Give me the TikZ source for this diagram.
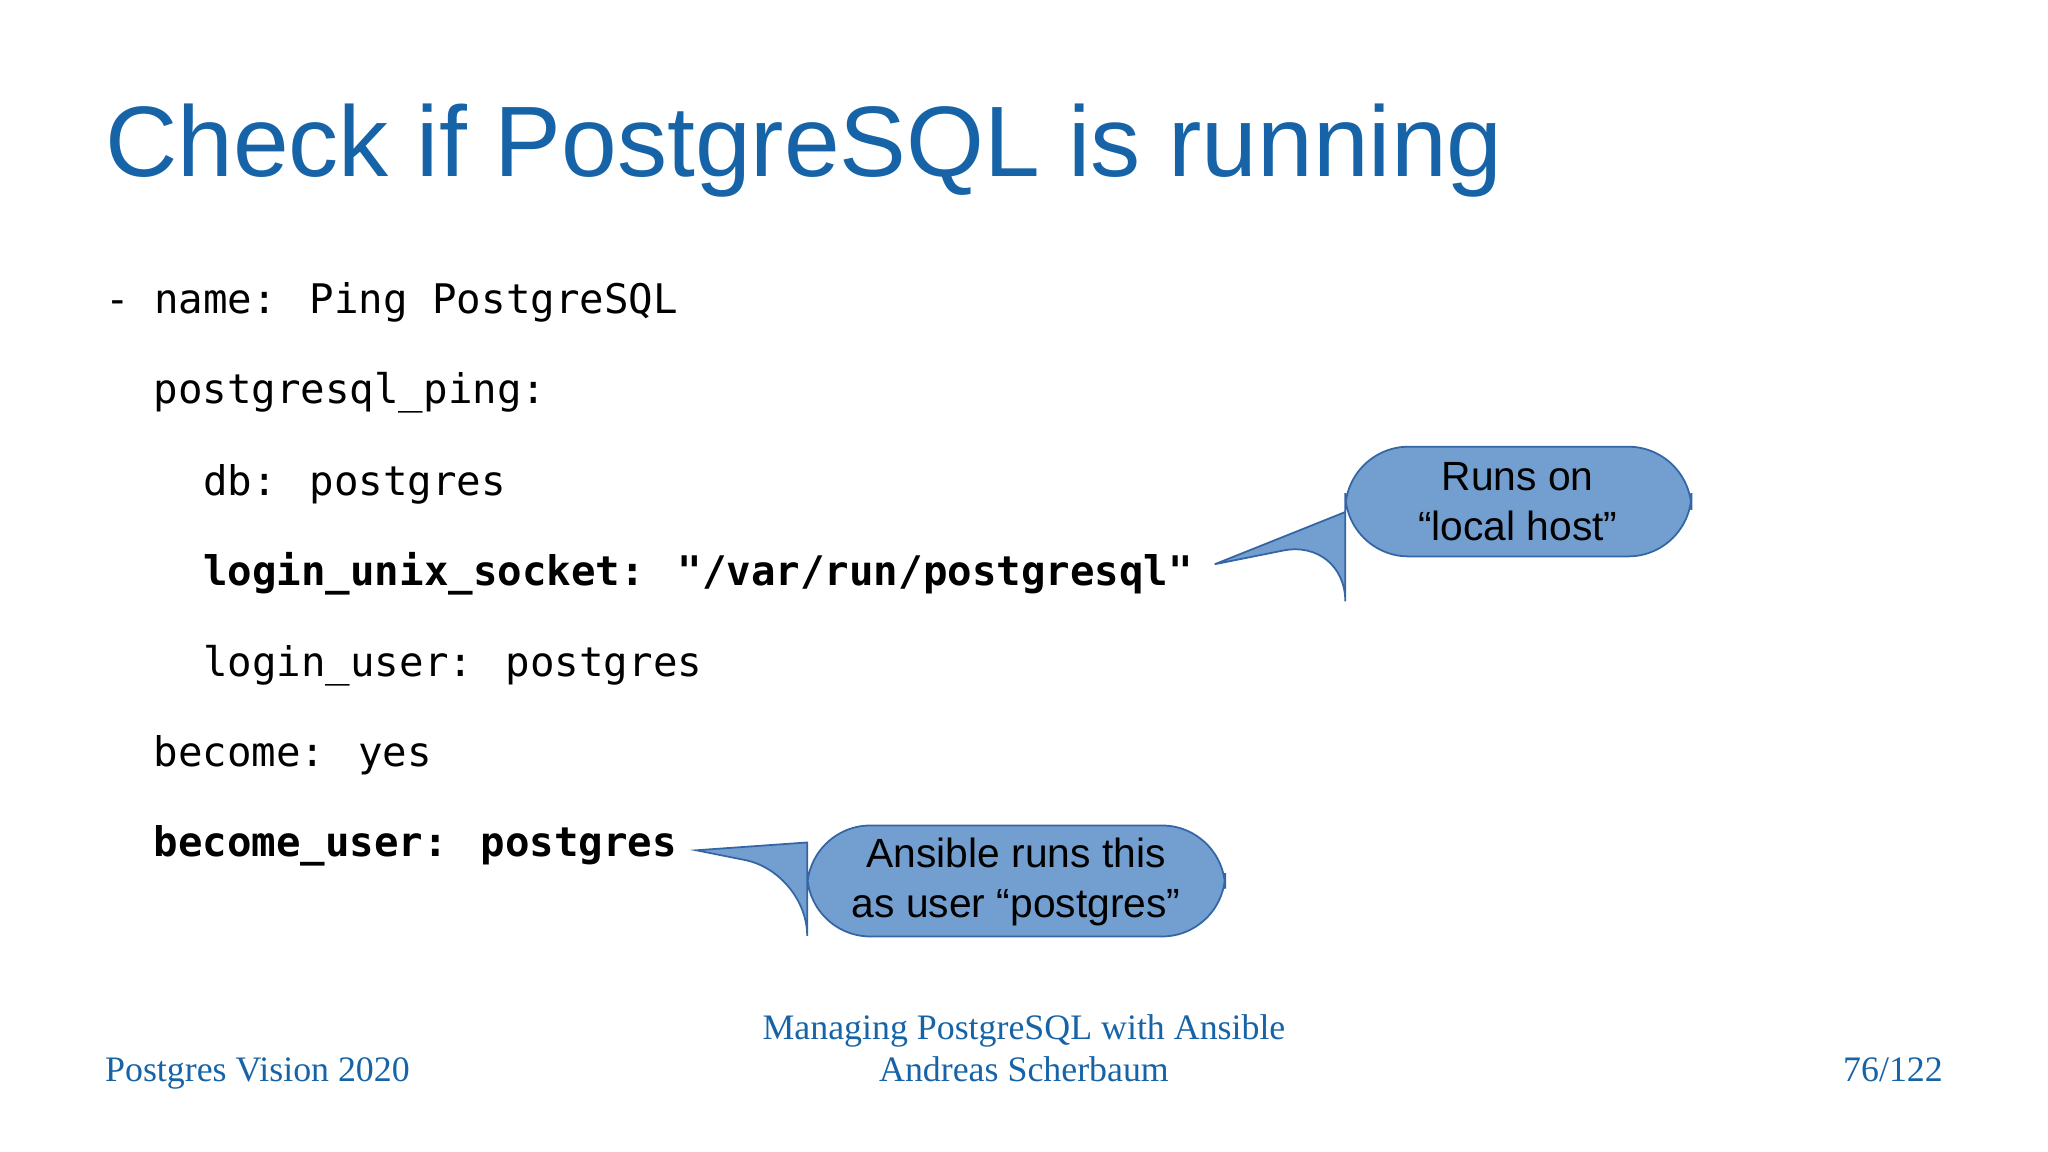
\documentclass[tikz,border=0pt]{standalone}
\usepackage{fontspec}
\setmainfont{Liberation Sans}
\newfontfamily\codefont{DejaVu Sans Mono}
\newfontfamily\footfont{Liberation Serif}
\definecolor{titleblue}{HTML}{1664A7}
\definecolor{cfill}{HTML}{729FCF}
\definecolor{cline}{HTML}{3465A4}
\begin{document}
\begin{tikzpicture}[x=0.01306cm,y=-0.01306cm,
  code/.style={anchor=base west,inner sep=0,font=\codefont\fontsize{11.6}{14}\selectfont},
  bcode/.style={code,font=\codefont\bfseries\fontsize{11.6}{14}\selectfont},
  foot/.style={inner sep=0,text=titleblue,font=\footfont\fontsize{10.2}{12}\selectfont},
  callout/.style={fill=cfill,draw=cline,line width=0.5pt},
  ctext/.style={inner sep=0,align=center,font=\fontsize{11.6}{14.2}\selectfont}]
\useasboundingbox (0,0) rectangle (1568,882);
\node[anchor=base west,inner sep=0,text=titleblue,font=\fontsize{28.5}{34}\selectfont] (title) at (80,135) {Check if PostgreSQL is running};
\node[code] (l1) at (80,240) {- name: Ping PostgreSQL};
\node[code] (l2) at (117,309) {postgresql\_ping:};
\node[code] (l3) at (155,379) {db: postgres};
\node[bcode] (l4) at (155,448) {login\_unix\_socket: "/var/run/postgresql"};
\node[code] (l5) at (155,518) {login\_user: postgres};
\node[code] (l6) at (117,587) {become: yes};
\node[bcode] (l7) at (117,656) {become\_user: postgres};
\coordinate (t1) at (930,432);
\coordinate (t2) at (533,651);
\draw[callout] (1030,392) [rounded corners=18] -- (1030,342) -- (1295,342) -- (1295,426) -- (1030,426) -- (1030,412) [sharp corners] -- (t1) -- cycle;
\draw[callout] (618,645) [rounded corners=18] -- (618,632) -- (938,632) -- (938,717) -- (618,717) -- (618,668) [sharp corners] -- (t2) -- cycle;
\node[ctext] (c1) at (1162,384) {Runs on\\“local host”};
\node[ctext] (c2) at (778,675) {Ansible runs this\\as user “postgres”};
\node[foot,anchor=base west] (f1) at (80,828) {Postgres Vision 2020};
\node[foot,anchor=base,align=center] (f2) at (784,828) {Managing PostgreSQL with Ansible\\Andreas Scherbaum};
\node[foot,anchor=base east] (f3) at (1488,828) {76/122};
\end{tikzpicture}
\end{document}
